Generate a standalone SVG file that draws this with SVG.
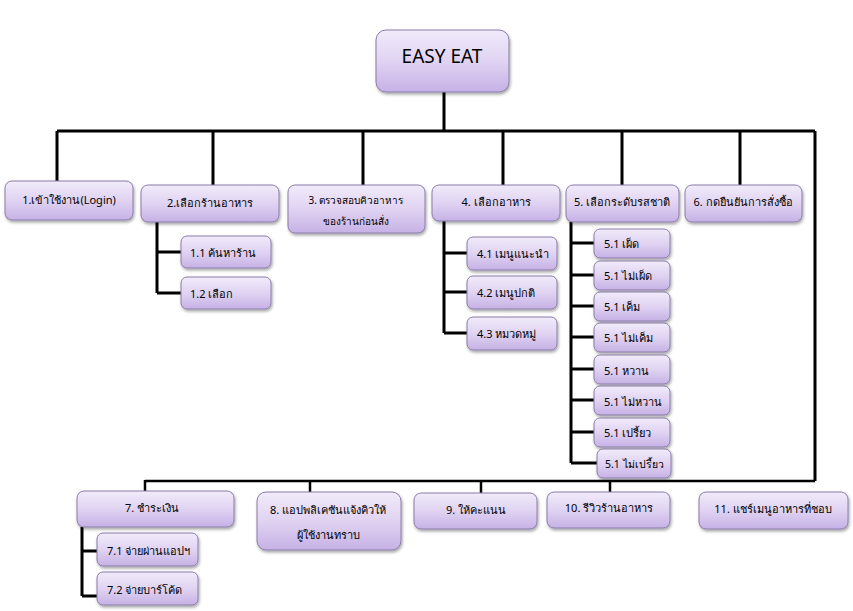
<svg xmlns="http://www.w3.org/2000/svg" width="853" height="611" viewBox="0 0 853 611">
<defs>
<linearGradient id="g" x1="0" y1="0" x2="0" y2="1">
<stop offset="0" stop-color="#f1ebfa"/>
<stop offset="0.5" stop-color="#e0d3f2"/>
<stop offset="1" stop-color="#c6b1e5"/>
</linearGradient>
<filter id="sh" x="-10%" y="-10%" width="125%" height="140%">
<feDropShadow dx="1" dy="2" stdDeviation="1.5" flood-color="#000" flood-opacity="0.35"/>
</filter>
</defs>
<style>
.n rect{fill:url(#g);stroke:#8a7ca8;stroke-width:1;filter:url(#sh)}
.n text{font-family:"Noto Sans","DejaVu Sans",sans-serif;font-size:11px;fill:#000;text-anchor:middle;dominant-baseline:central}
.n text.l{text-anchor:start}
.c{stroke:#000;stroke-width:3;fill:none}
.t{stroke-width:2.5}
</style>
<rect width="853" height="611" fill="#fff"/>
<g id="connectors">
<path class="c" d="M444 92V131M57 131H815M57 131V181M213 131V185M363 131V185M503 131V185M622 131V185M740 131V185M815 131V481"/>
<path class="c" d="M157 222V293M157 252H181M157 293H181"/>
<path class="c" d="M444 221V333M444 253H467M444 292H467M444 333H467"/>
<path class="c" d="M571 222V463M571 243H594M571 275H594M571 306H594M571 337H594M571 369H594M571 400H594M571 432H594M571 463H597"/>
<path class="c t" d="M145 481H815M145 480V492M310 481V492M481 481V494M610 481V492"/>
<path class="c" d="M82 527V596M82 551H97M82 596H97"/>
</g>
<g id="n0" class="n"><rect x="376" y="30" width="133" height="62" rx="10"/><text x="442" y="56" style="font-size:19px">EASY EAT</text></g>
<g id="n1" class="n"><rect x="5" y="181" width="128" height="39" rx="7"/><text x="69" y="199">1.เข้าใช้งาน(Login)</text></g>
<g id="n2" class="n"><rect x="141" y="185" width="138" height="37" rx="7"/><text x="210" y="202">2.เลือกร้านอาหาร</text></g>
<g id="n3" class="n"><rect x="288" y="185" width="137" height="48" rx="7"/><text x="356" y="200" style="font-size:10px">3. ตรวจสอบคิวอาหาร</text><text x="356" y="221" style="font-size:10px">ของร้านก่อนสั่ง</text></g>
<g id="n4" class="n"><rect x="432" y="185" width="128" height="36" rx="7"/><text x="496" y="201">4. เลือกอาหาร</text></g>
<g id="n5" class="n"><rect x="566" y="185" width="113" height="37" rx="7"/><text x="622" y="201">5. เลือกระดับรสชาติ</text></g>
<g id="n6" class="n"><rect x="685" y="185" width="117" height="37" rx="7"/><text x="743" y="201">6. กดยืนยันการสั่งซื้อ</text></g>
<g id="n11" class="n"><rect x="181" y="236" width="90" height="32" rx="6"/><text class="l" x="190" y="252">1.1 ค้นหาร้าน</text></g>
<g id="n12" class="n"><rect x="181" y="277" width="90" height="32" rx="6"/><text class="l" x="190" y="293">1.2 เลือก</text></g>
<g id="n41" class="n"><rect x="467" y="237" width="90" height="33" rx="6"/><text class="l" x="477" y="253">4.1 เมนูแนะนำ</text></g>
<g id="n42" class="n"><rect x="467" y="276" width="90" height="33" rx="6"/><text class="l" x="477" y="292">4.2 เมนูปกติ</text></g>
<g id="n43" class="n"><rect x="467" y="317" width="90" height="33" rx="6"/><text class="l" x="477" y="333">4.3 หมวดหมู่</text></g>
<g id="n51" class="n"><rect x="594" y="229" width="76" height="29" rx="6"/><text class="l" x="604" y="243">5.1 เผ็ด</text></g>
<g id="n52" class="n"><rect x="594" y="261" width="76" height="29" rx="6"/><text class="l" x="604" y="275">5.1 ไม่เผ็ด</text></g>
<g id="n53" class="n"><rect x="594" y="292" width="76" height="29" rx="6"/><text class="l" x="604" y="306">5.1 เค็ม</text></g>
<g id="n54" class="n"><rect x="594" y="323" width="76" height="29" rx="6"/><text class="l" x="604" y="337">5.1 ไม่เค็ม</text></g>
<g id="n55" class="n"><rect x="594" y="355" width="76" height="29" rx="6"/><text class="l" x="604" y="370">5.1 หวาน</text></g>
<g id="n56" class="n"><rect x="594" y="386" width="76" height="29" rx="6"/><text class="l" x="604" y="401">5.1 ไม่หวาน</text></g>
<g id="n57" class="n"><rect x="594" y="418" width="76" height="29" rx="6"/><text class="l" x="604" y="432">5.1 เปรี้ยว</text></g>
<g id="n58" class="n"><rect x="597" y="449" width="74" height="29" rx="6"/><text class="l" x="605" y="464" style="font-size:10.5px">5.1 ไม่เปรี้ยว</text></g>
<g id="n7" class="n"><rect x="77" y="491" width="157" height="36" rx="7"/><text x="152" y="507">7. ชำระเงิน</text></g>
<g id="n71" class="n"><rect x="97" y="533" width="101" height="33" rx="6"/><text class="l" x="107" y="550">7.1 จ่ายผ่านแอปฯ</text></g>
<g id="n72" class="n"><rect x="97" y="572" width="101" height="33" rx="6"/><text class="l" x="107" y="589">7.2 จ่ายบาร์โค้ด</text></g>
<g id="n8" class="n"><rect x="257" y="492" width="144" height="58" rx="9"/><text x="328" y="509">8. แอปพลิเคชันแจ้งคิวให้</text><text x="328" y="534">ผู้ใช้งานทราบ</text></g>
<g id="n9" class="n"><rect x="414" y="493" width="123" height="36" rx="7"/><text x="476" y="509">9. ให้คะแนน</text></g>
<g id="n10" class="n"><rect x="547" y="492" width="123" height="36" rx="7"/><text x="609" y="507">10. รีวิวร้านอาหาร</text></g>
<g id="n11b" class="n"><rect x="699" y="492" width="149" height="37" rx="7"/><text x="773" y="508">11. แชร์เมนูอาหารที่ชอบ</text></g>
</svg>
